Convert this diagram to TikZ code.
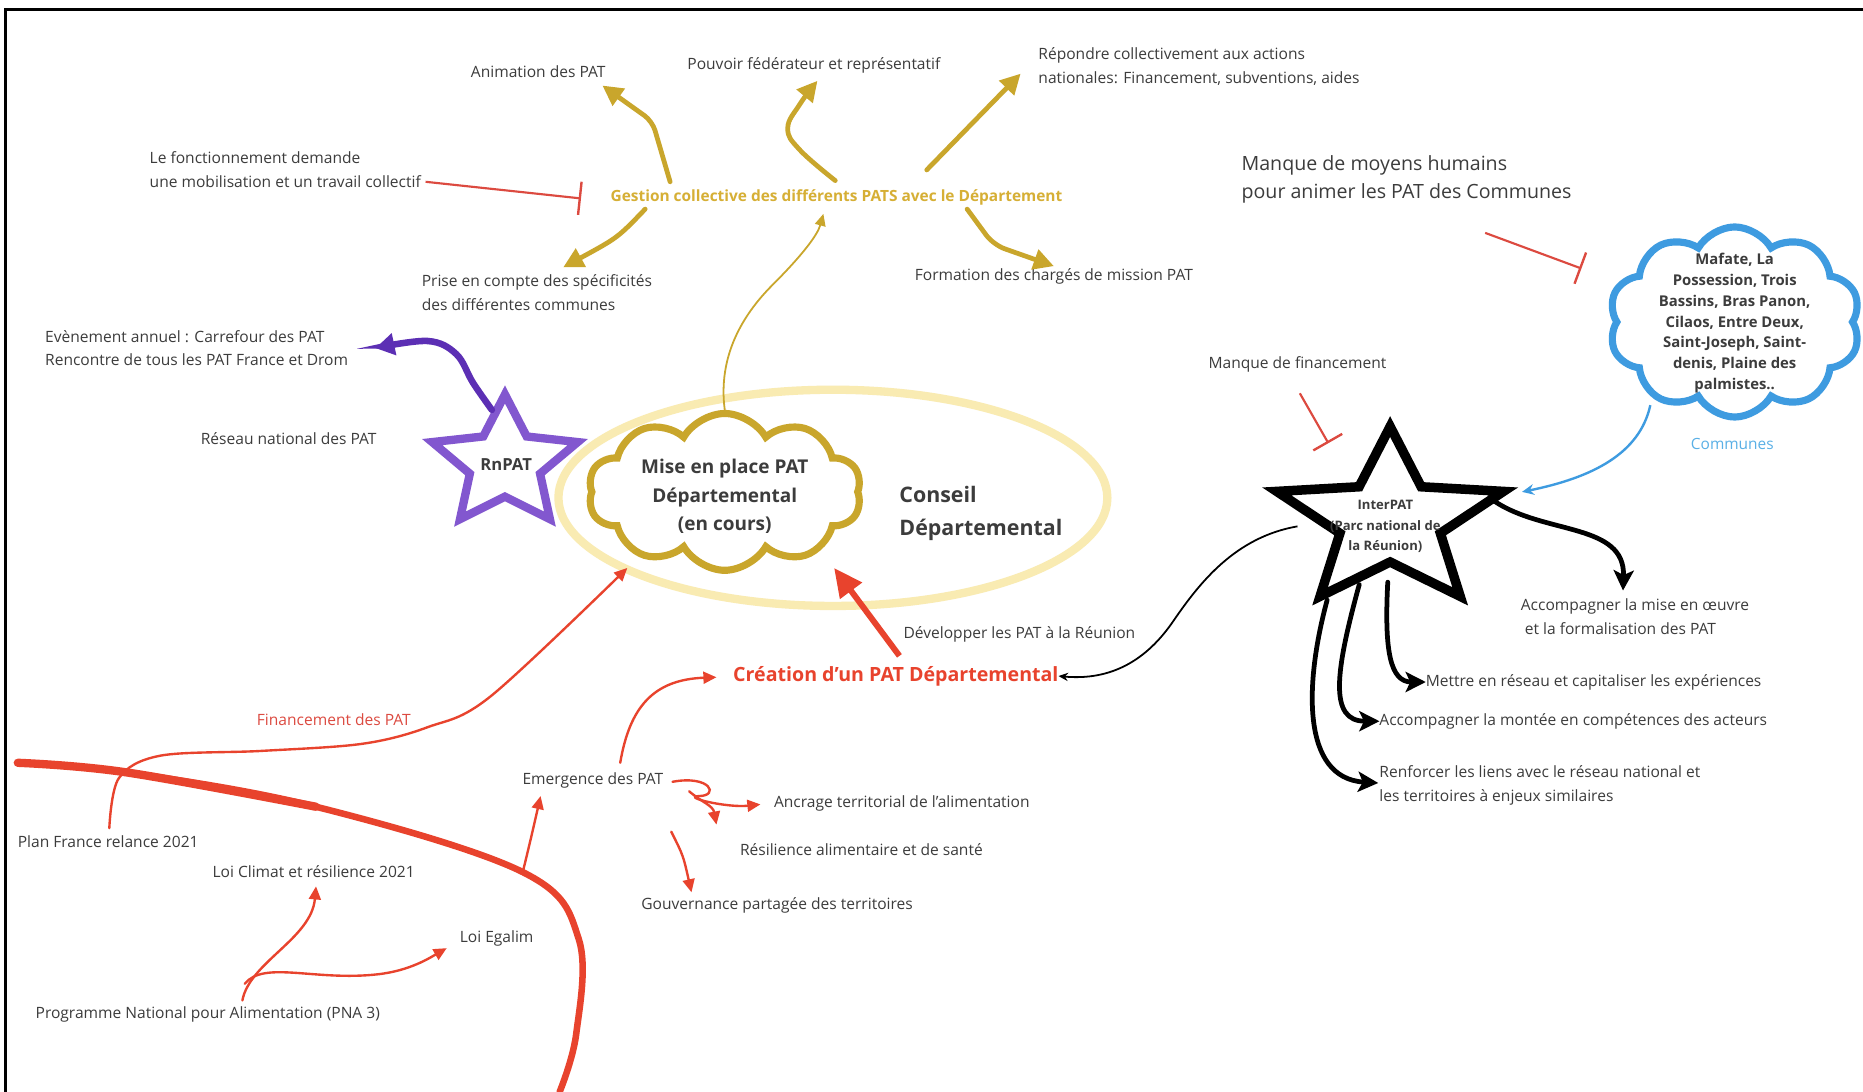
\documentclass[tikz,border=0pt]{standalone}
\usepackage{fontspec}
\setmainfont{Open Sans}
\usetikzlibrary{arrows.meta,shapes.geometric,shapes.symbols}
\definecolor{goldc}{HTML}{C9A62C}
\definecolor{goldtxt}{HTML}{D6AF35}
\definecolor{ellc}{HTML}{F9EBB2}
\definecolor{redc}{HTML}{E8432D}
\definecolor{redt}{HTML}{DC4A40}
\definecolor{purpc}{HTML}{8257CF}
\definecolor{purpa}{HTML}{5C2FB4}
\definecolor{bluec}{HTML}{3E9BE0}
\definecolor{bluet}{HTML}{5AB0E6}
\definecolor{txt}{HTML}{3C3C3C}
\newcommand\fsz[2]{\fontsize{#1}{#2}\selectfont}
\tikzset{
 lbl/.style={font=\fsz{13.1}{20}, text=txt, inner sep=0pt, outer sep=0pt, align=left},
 lblc/.style={lbl, align=center},
 goldarr/.style={draw=goldc, line width=4pt, line cap=round, line join=round, -{Triangle[length=17pt,width=17pt]}},
 redarr/.style={draw=redc, line width=2pt, line cap=round, -{Triangle[length=11pt,width=10pt]}},
 blkarr/.style={draw=black, line width=4pt, line cap=round, -{Stealth[length=17pt,width=17pt,inset=4pt]}},
 inhib/.style={draw=redt, line width=1.8pt, -{Bar[width=28pt,line width=2pt]}},
 cloudbox/.style={cloud, cloud puffs=10, cloud puff arc=120, line width=6pt, fill=white, inner sep=0pt},
}
\begin{document}
\begin{tikzpicture}[x=1pt,y=-1pt]
\useasboundingbox (0,0) rectangle (1568,919);
\fill[white] (0,0) rectangle (1568,919);
\draw[black, line width=2.5pt] (5,919) -- (5,8) -- (1568,8);

% ---------- central ellipse and cloud
\node[ellipse, draw=ellc, line width=7pt, minimum width=462pt, minimum height=182pt, inner sep=0pt] (cdell) at (701,419) {};
\node[cloudbox, draw=goldc, minimum width=230pt, minimum height=132pt] (mise) at (610,414) {};
\node[lblc, font=\bfseries\fsz{16}{24}, text=txt] (misetxt) at (610,418) {Mise en place PAT\\Départemental\\(en cours)};
\node[lbl, anchor=west, font=\bfseries\fsz{18}{28}, text=txt] (conseil) at (757,432) {Conseil\\Départemental};

% ---------- RnPAT star
\draw[purpc, line width=7pt, line join=miter, shift={(425,390)}, xscale=1.11]
  (-90:58) -- (-54:28) -- (-18:58) -- (18:28) -- (54:58) -- (90:28) -- (126:58) -- (162:28) -- (198:58) -- (234:28) -- cycle;
\node[lblc, font=\bfseries\fsz{14}{18}, text=txt] (rnpat) at (426,391) {RnPAT};

% ---------- InterPAT star
\draw[black, line width=8pt, line join=miter, shift={(1170,438)}, xscale=1.27]
  (-90:79) -- (-54:35) -- (-18:79) -- (18:35) -- (54:79) -- (90:35) -- (126:79) -- (162:35) -- (198:79) -- (234:35) -- cycle;
\node[lblc, font=\bfseries\fsz{11}{17.5}, text=txt] (interpat) at (1166,443) {InterPAT\\(Parc national de\\la Réunion)};
\coordinate (itipR) at (1281,414);
\coordinate (iL) at (1092,443);
\coordinate (iR) at (1258,422);
\coordinate (ib1) at (1168,490);
\coordinate (ib2) at (1144,492);
\coordinate (ib3) at (1117,505);

% ---------- blue cloud
\node[cloudbox, draw=bluec, minimum width=212pt, minimum height=160pt] (bcloud) at (1460,271) {};
\node[lblc, font=\bfseries\fsz{12.5}{17.5}, text=txt] (btxt) at (1460,272) {Mafate, La\\Possession, Trois\\Bassins, Bras Panon,\\Cilaos, Entre Deux,\\Saint-Joseph, Saint-\\denis, Plaine des\\palmistes..};
\node[lblc, font=\fsz{13}{14}, text=bluet] (communes) at (1458,374) {Communes};
\coordinate (bbot) at (1389,341);

% ---------- labels top
\node[lblc] (anim) at (453,60) {Animation des PAT};
\node[lblc] (pouv) at (685,55) {Pouvoir fédérateur et représentatif};
\node[lbl, anchor=west] (rep) at (874,56) {Répondre collectivement aux actions\\nationales: Financement, subventions, aides};
\node[lbl, anchor=west] (fonc) at (126,143) {Le fonctionnement demande\\une mobilisation et un travail collectif};
\node[lblc, font=\bfseries\fsz{13}{14}, text=goldtxt] (gest) at (704,166) {Gestion collective des différents PATS avec le Département};
\node[lbl, anchor=west] (prise) at (355,246) {Prise en compte des spécificités\\des différentes communes};
\node[lblc] (form) at (887,233) {Formation des chargés de mission PAT};
\node[lbl, anchor=west] (even) at (38,293) {Evènement annuel : Carrefour des PAT\\Rencontre de tous les PAT France et Drom};
\node[lblc] (reseau) at (243,369) {Réseau national des PAT};
\node[lbl, anchor=west, font=\fsz{16.5}{24}] (mhum) at (1045,151) {Manque de moyens humains\\pour animer les PAT des Communes};
\node[lblc] (mfin) at (1092,307) {Manque de financement};

% ---------- labels bottom
\node[lblc] (dev) at (858,534) {Développer les PAT à la Réunion};
\node[lblc, font=\bfseries\fsz{16.5}{18}, text=redc] (crea) at (754,569) {Création d'un PAT Départemental};
\node[lblc, text=redt] (fin) at (281,606) {Financement des PAT};
\node[lbl, anchor=west] (plan) at (15,708) {Plan France relance 2021};
\node[lblc] (climat) at (264,734) {Loi Climat et résilience 2021};
\node[lblc] (egalim) at (418,790) {Loi Egalim};
\node[lbl, anchor=west] (pna) at (30,854) {Programme National pour Alimentation (PNA 3)};
\node[lblc] (emer) at (499,657) {Emergence des PAT};
\node[lblc] (ancr) at (759,676) {Ancrage territorial de l'alimentation};
\node[lblc] (resil) at (725,715) {Résilience alimentaire et de santé};
\node[lblc] (gouv) at (654,762) {Gouvernance partagée des territoires};
\node[lbl, anchor=west] (acc1) at (1280,519) {Accompagner la mise en œuvre\\\ et la formalisation des PAT};
\node[lbl, anchor=west] (mettre) at (1200,574) {Mettre en réseau et capitaliser les expériences};
\node[lbl, anchor=west] (accmon) at (1161,607) {Accompagner la montée en compétences des acteurs};
\node[lbl, anchor=west] (renf) at (1161,661) {Renforcer les liens avec le réseau national et\\les territoires à enjeux similaires};

% ---------- gold connectors
\draw[goldarr, rounded corners=8pt] (564,153) -- (549,102) -- (507,72);
\draw[goldarr] plot[smooth, tension=0.7] coordinates {(703,152) (673,126) (663,108) (673,88) (688,68)};
\draw[goldarr] (780,143) -- (859,62);
\draw[goldarr, rounded corners=10pt] (814,176) -- (836,206) -- (887,224);
\draw[goldarr] (543,176) .. controls (520,200) .. (474,225);
\draw[draw=goldc, line width=1.5pt, -{Triangle[length=10pt,width=9pt]}] (mise.north) .. controls (604,300) and (625,265) .. (650,240) .. controls (675,215) and (688,198) .. (693,180);

% ---------- inhibitions
\draw[inhib] ([xshift=4pt]fonc.east |- 0,153) -- (489,167);
\draw[inhib] (1250,196) -- (1331,226);
\draw[inhib] (1094,331) -- (1118,373);

% ---------- purple
\draw[draw=purpa, line width=5.5pt, line cap=round, -{Triangle[length=16pt,width=18pt]}]
  plot[smooth, tension=0.6] coordinates {(414,345) (398,322) (384,298) (360,287) (316,293)};

% ---------- red
\draw[draw=redc, line width=5.5pt, line cap=round]
  plot[smooth, tension=0.6] coordinates {(15,642) (106,650) (266,679) (440,734) (487,790) (485,870) (471,919)};
\draw[draw=redc, line width=7pt, line cap=round]
  plot[smooth, tension=0.6] coordinates {(15,642) (106,650) (266,679)};
\draw[redarr] plot[smooth, tension=0.55] coordinates {(92,697) (100,655) (135,636) (220,632) (305,626) (360,612) (413,586) (528,478)};
\draw[redarr] (440,734) .. controls (447,705) .. (455,670);
\draw[redarr] (522,642) .. controls (530,595) and (550,572) .. (603,570);
\draw[draw=redc, line width=5pt, -{Triangle[length=24pt,width=22pt]}] (757,552) -- (702,478);
\draw[redarr] (204,842) .. controls (210,810) and (262,790) .. (266,746);
\draw[redarr] (206,828) .. controls (222,808) and (265,826) .. (318,820) .. controls (345,817) and (362,806) .. (376,798);
\draw[redarr] (566,658) .. controls (598,652) and (606,670) .. (588,670) .. controls (574,671) and (612,680) .. (640,677);
\draw[redarr] (580,666) .. controls (592,676) and (600,678) .. (603,694);
\draw[redarr] (565,700) .. controls (575,720) .. (582,751);

% ---------- black
\draw[draw=black, line width=1.5pt, -{Stealth[length=8pt,width=7pt]}] (iL) .. controls (1040,452) and (1010,490) .. (988,522) .. controls (965,556) and (935,573) .. (crea.east);
\draw[blkarr] (iR) .. controls (1300,450) and (1368,440) .. (1366,497);
\draw[blkarr] (ib1) .. controls (1165,548) and (1170,574) .. (mettre.west);
\draw[blkarr] (ib2) .. controls (1124,565) and (1118,607) .. (accmon.west);
\draw[blkarr] (ib3) .. controls (1098,575) and (1095,655) .. (1160,659);

% ---------- blue
\draw[draw=bluec, line width=2pt, -{Stealth[length=10pt,width=9pt]}] (bbot) .. controls (1380,382) and (1340,402) .. (itipR);
\end{tikzpicture}
\end{document}
